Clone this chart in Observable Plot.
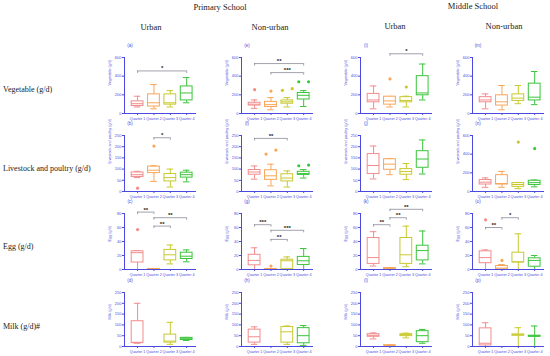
<!DOCTYPE html>
<html><head><meta charset="utf-8">
<script src="https://cdn.jsdelivr.net/npm/d3@7"></script>
<script src="https://cdn.jsdelivr.net/npm/@observablehq/plot@0.6"></script>
<style>
body{margin:0;background:#fff;}
#wrap{position:relative;width:550px;height:356px;overflow:hidden;background:#fff;font-family:"Liberation Serif","Times New Roman",serif;}
.t{position:absolute;white-space:nowrap;color:#222;line-height:1;transform:translate(-50%,-50%);}
.r{position:absolute;white-space:nowrap;color:#222;line-height:1;font-size:8px;transform:translate(0,-50%);}
.lt{position:absolute;font-family:"Liberation Sans",Arial,sans-serif;font-size:4.5px;color:#4a4ae0;transform:translate(-50%,-50%);white-space:nowrap;}
.p{position:absolute;}
</style></head><body><div id="wrap"></div>
<script>
// ---- text ----
const schools = ["Primary School", "Middle School"];
const areas = ["Urban", "Non-urban", "Urban", "Non-urban"];
const rowLabels = ["Vegetable (g/d)", "Livestock and poultry (g/d)", "Egg (g/d)", "Milk (g/d)#"];
const axisLabels = ["Vegetable (g/d)", "Livestock and poultry (g/d)", "Egg (g/d)", "Milk (g/d)"];
const quarters = ["Quarter 1", "Quarter 2", "Quarter 3", "Quarter 4"];
const panelLetters = [["(a)","(b)","(c)","(d)"],["(e)","(f)","(g)","(h)"],["(i)","(j)","(k)","(l)"],["(m)","(n)","(o)","(p)"]];
const colors = ["#f28c8c", "#f8a556", "#c8c82e", "#3cc43c"];

// ---- box statistics [min, q1, median, q3, max] per quarter; columns: PU, PN, MU, MN ----
const vegetableBoxes = [
  [[70,80,105,130,185],[50,75,115,205,310],[70,95,115,205,245],[115,140,220,290,385]],
  [[55,85,100,115,145],[40,70,95,125,170],[70,105,125,140,170],[75,150,195,220,245]],
  [[50,120,145,210,295],[70,95,135,180,183],[70,120,140,175,185],[145,195,220,400,530]],
  [[50,120,145,175,210],[40,85,125,195,300],[105,135,165,205,300],[95,140,175,320,450]]
];
const livestockBoxes = [
  [[62,65,75,85,90],[45,82,95,111,115],[20,45,62,78,100],[43,62,75,84,95]],
  [[55,75,87,96,114],[25,52,70,95,122],[20,45,60,77,92],[60,74,80,88,98]],
  [[56,78,116,167,203],[75,97,122,144,147],[53,75,89,100,125],[78,106,145,180,230]],
  [[45,75,100,123,146],[45,75,85,175,215],[30,50,75,90,97],[50,70,95,115,123]]
];
const eggBoxes = [
  [[0,10,24,26,27],[0,0.3,0.5,0.8,1],[8,13,21,28,35],[11,15,19,24,28]],
  [[0,6,13,21,31],[0,0.3,0.5,0.8,1],[0,0.5,12.5,14,18],[0,6.5,12.5,18,30]],
  [[5,8,17,45,54],[0,0.5,1,2,2],[4,8,21,45,62],[8,13,27,34,55]],
  [[0,9,17,26,28],[0,0,2,5,7],[0,10,11,24,51],[0,4,13,16,20]]
];
const milkBoxes = [
  [[15,17,18,117,200],[0,0,0,0,0],[10,18,25,55,112],[28,30,38,40,42]],
  [[10,18,45,78,91],null,[10,18,68,90,95],[5,15,50,85,97]],
  [[35,45,52,57,63],[3,4,5,6,7],[40,48,55,57,62],[15,20,50,71,79]],
  [[0,5,15,84,110],null,[0,50,54,56,87],[0,45,48,50,95]]
];

// ---- outliers [quarter, value] ----
const vegetableOutliers = [[], [[1,255],[2,240],[3,248],[3,266],[4,340],[4,340]], [[2,370],[3,284]], []];
const livestockOutliers = [[[1,15],[2,203]], [[2,167],[2,185],[4,115],[4,118]], [], [[3,530],[4,460]]];
const eggOutliers = [[[1,57]], [[2,5]], [], [[1,71],[2,13]]];
const milkOutliers = [[], [], [], []];

// ---- significance brackets [from quarter, to quarter, level, label] ----
const vegetableSig = [[[1,4,456,"*"]], [[1,4,535,"**"],[2,4,438,"***"]], [[2,4,640,"*"]], []];
const livestockSig = [[[2,3,240,"*"]], [[1,3,237,"**"]], [], []];
const eggSig = [[[1,2,82,"**"],[2,4,74,"**"],[2,3,62,"**"]], [[1,2,64,"***"],[2,4,56,"***"],[2,3,43,"**"]], [[1,2,64,"**"],[2,3,74,"**"],[2,4,86,"**"]], [[1,2,60,"**"],[2,3,74,"*"]]];
const milkSig = [[], [], [], []];

// ---- axis ticks ----
const vegetableTicks = [0,200,400,600];
const livestockTicks = [0,50,100,150,200,250];
const livestockTicksWide = [0,200,400,600];
const eggTicks = [0,20,40,60,80];
const milkTicks = [0,50,100,150,200,250];

// ---- layout ----
const wrap = document.getElementById("wrap");
const blue = "#4a4ae0";
const colAxisX = [124, 241, 360, 472];
const rowTop = [57, 135, 213, 292];
const rowH = [56, 56, 56, 54];
const mL = 24, mR = 6, mT = 14, mB = 12, W = 72;

function addText(cls, txt, x, y, size) {
  const d = document.createElement("div");
  d.className = cls; d.textContent = txt;
  d.style.left = x + "px"; d.style.top = y + "px";
  if (size) d.style.fontSize = size + "px";
  wrap.appendChild(d);
}
addText("t", schools[0], 220, 7, 8.5);
addText("t", schools[1], 473, 6, 8.5);
[151, 270, 395, 504].forEach((x, i) => addText("t", areas[i], x, i < 2 ? 27 : 26, 8.5));
[90, 169, 247, 327].forEach((y, i) => addText("r", rowLabels[i], 3, y));

const rows = [
  {boxes: vegetableBoxes, outs: vegetableOutliers, sig: vegetableSig, ticks: [vegetableTicks, vegetableTicks, vegetableTicks, vegetableTicks]},
  {boxes: livestockBoxes, outs: livestockOutliers, sig: livestockSig, ticks: [livestockTicks, livestockTicks, livestockTicks, livestockTicksWide]},
  {boxes: eggBoxes, outs: eggOutliers, sig: eggSig, ticks: [eggTicks, eggTicks, eggTicks, eggTicks]},
  {boxes: milkBoxes, outs: milkOutliers, sig: milkSig, ticks: [milkTicks, milkTicks, milkTicks, milkTicks]}
];

rows.forEach((row, r) => {
  for (let c = 0; c < 4; c++) {
    const ticks = row.ticks[c];
    const ymax = d3.max(ticks);
    const boxes = [];
    row.boxes[c].forEach((s, i) => {
      if (s) boxes.push({q: i + 1, min: s[0], q1: s[1], med: s[2], q3: s[3], max: s[4]});
    });
    const outs = row.outs[c].map(([q, v], i, arr) => {
      const near = arr.filter(([q2, v2]) => q2 === q && Math.abs(v2 - v) < ymax * 0.08);
      let off = 0;
      if (near.length > 1) {
        const k = near.findIndex(o => o === arr[i]);
        off = (k - (near.length - 1) / 2) * 0.6;
      }
      return {q, v, xo: q + off};
    });
    const sig = row.sig[c].map(([a, b, y, label]) => ({a, b, y, label}));
    const drop = ymax * 0.045;
    const ends = sig.flatMap(s => [{x: s.a, y: s.y}, {x: s.b, y: s.y}]);
    const hw = 0.36, cw = 0.2;
    const H = rowH[r];
    const chart = Plot.plot({
      width: mL + W + mR, height: mT + H + mB,
      marginLeft: mL, marginRight: mR, marginTop: mT, marginBottom: mB,
      x: {domain: [0.2, 4.6]},
      y: {domain: [0, ymax]},
      color: {type: "ordinal", domain: [1, 2, 3, 4], range: colors},
      style: {background: "transparent", color: blue, fontFamily: "Liberation Sans, Arial, sans-serif", overflow: "visible"},
      marks: [
        Plot.axisY({ticks, tickSize: 2, tickPadding: 1, fontSize: 4, label: null, color: blue}),
        Plot.axisX({ticks: [1, 2, 3, 4], tickFormat: d => quarters[d - 1], tickSize: 2, tickPadding: 1.5, fontSize: 3.7, label: null, color: blue}),
        Plot.text([axisLabels[r]], {frameAnchor: "left", rotate: -90, dx: -15, fontSize: 3.8, fill: blue}),
        Plot.ruleX(boxes, {x: "q", y1: "min", y2: "q1", stroke: "q", strokeWidth: 1}),
        Plot.ruleX(boxes, {x: "q", y1: "q3", y2: "max", stroke: "q", strokeWidth: 1}),
        Plot.ruleY(boxes, {y: "min", x1: d => d.q - cw, x2: d => d.q + cw, stroke: "q", strokeWidth: 1}),
        Plot.ruleY(boxes, {y: "max", x1: d => d.q - cw, x2: d => d.q + cw, stroke: "q", strokeWidth: 1}),
        Plot.rect(boxes, {x1: d => d.q - hw, x2: d => d.q + hw, y1: "q1", y2: "q3", fill: "white", stroke: "q", strokeWidth: 1}),
        Plot.ruleY(boxes, {y: "med", x1: d => d.q - hw, x2: d => d.q + hw, stroke: "q", strokeWidth: 1}),
        Plot.dot(outs, {x: "xo", y: "v", fill: "q", r: 1.6}),
        Plot.ruleY(sig, {y: "y", x1: "a", x2: "b", stroke: "#8a8a9a", strokeWidth: 0.8}),
        Plot.ruleX(ends, {x: "x", y1: "y", y2: d => d.y - drop, stroke: "#8a8a9a", strokeWidth: 0.8}),
        Plot.text(sig, {x: d => (d.a + d.b) / 2, y: "y", text: "label", dy: -2.5, fontSize: 6, fontWeight: "bold", fill: "#222"}),
        Plot.ruleX([0.2], {y1: 0, y2: ymax, stroke: blue, strokeWidth: 1}),
        Plot.ruleY([0], {stroke: blue, strokeWidth: 1})
      ]
    });
    chart.classList.add("p");
    chart.style.left = (colAxisX[c] - mL) + "px";
    chart.style.top = (rowTop[r] - mT) + "px";
    wrap.appendChild(chart);
    addText("lt", panelLetters[c][r], colAxisX[c] + 6, rowTop[r] - 12);
  }
});
</script>
</body></html>
